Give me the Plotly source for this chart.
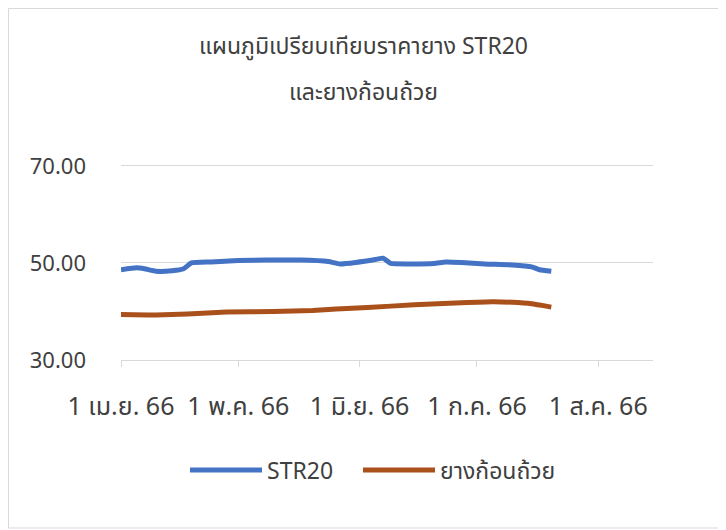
import plotly.graph_objects as go

# ---- data ----
str20_dates = ["2023-04-01", "2023-04-05", "2023-04-07", "2023-04-10", "2023-04-14",
               "2023-04-17", "2023-04-19", "2023-04-24", "2023-05-01", "2023-05-08",
               "2023-05-17", "2023-05-24", "2023-05-27", "2023-05-31", "2023-06-05",
               "2023-06-07", "2023-06-09", "2023-06-14", "2023-06-20", "2023-06-23",
               "2023-06-27", "2023-07-03", "2023-07-10", "2023-07-15", "2023-07-17",
               "2023-07-20"]
str20_values = [48.6, 49.0, 48.8, 48.3, 48.4,
                48.8, 50.0, 50.2, 50.5, 50.6,
                50.6, 50.3, 49.8, 50.1, 50.7,
                51.0, 49.9, 49.8, 49.9, 50.2,
                50.1, 49.8, 49.6, 49.2, 48.6,
                48.3]

cup_dates = ["2023-04-01", "2023-04-10", "2023-04-18", "2023-04-28", "2023-05-10",
             "2023-05-20", "2023-05-26", "2023-06-03", "2023-06-15", "2023-06-27",
             "2023-07-05", "2023-07-10", "2023-07-15", "2023-07-18", "2023-07-20"]
cup_values = [39.4, 39.3, 39.5, 39.9, 40.0,
              40.2, 40.5, 40.8, 41.4, 41.8,
              42.0, 41.9, 41.6, 41.2, 40.9]

tick_dates = ["2023-04-01", "2023-05-01", "2023-06-01", "2023-07-01", "2023-08-01"]
tick_labels = ["1 เม.ย. 66", "1 พ.ค. 66", "1 มิ.ย. 66", "1 ก.ค. 66", "1 ส.ค. 66"]
y_ticks = [30, 50, 70]

series_names = ["STR20", "ยางก้อนถ้วย"]
colors = ["#4472C4", "#A9501B"]
title_lines = ["แผนภูมิเปรียบเทียบราคายาง STR20", "และยางก้อนถ้วย"]

# ---- layout geometry (page has an 8px body margin) ----
OFF = 8
W, H = 726 - OFF, 530 - OFF
L, R, T, B = 113, 73, 156, 170
pw, ph = W - L - R, H - T - B


def px_x(xp):
    return (xp - OFF - L) / pw


def px_y(yp):
    return (H - B - (yp - OFF)) / ph


FONT = "Tahoma, 'Noto Sans Thai', Loma, Garuda, 'Noto Sans', sans-serif"
TXT = "#404040"

fig = go.Figure()
fig.add_trace(go.Scatter(x=str20_dates, y=str20_values, mode="lines", name=series_names[0],
                         legend="legend",
                         line=dict(color=colors[0], width=5, shape="spline", smoothing=0.4)))
fig.add_trace(go.Scatter(x=cup_dates, y=cup_values, mode="lines", name=series_names[1],
                         legend="legend2",
                         line=dict(color=colors[1], width=5, shape="spline", smoothing=0.4)))

legend_common = dict(orientation="h", xanchor="left", yanchor="middle",
                     font=dict(size=23, color=TXT), itemwidth=72,
                     bgcolor="rgba(0,0,0,0)")

fig.update_layout(
    width=W, height=H,
    margin=dict(l=L, r=R, t=T, b=B),
    paper_bgcolor="white", plot_bgcolor="white",
    font=dict(family=FONT, size=22, color=TXT),
    showlegend=True,
    legend=dict(x=px_x(185), y=px_y(470), **legend_common),
    legend2=dict(x=px_x(358), y=px_y(470), **legend_common),
    xaxis=dict(type="date", range=["2023-04-01", "2023-08-15"],
               tickvals=tick_dates, ticktext=tick_labels,
               showgrid=False, zeroline=False,
               showline=True, linecolor="#D9D9D9", linewidth=1,
               ticks="outside", ticklen=6, tickcolor="#D9D9D9",
               tickfont=dict(size=25, color=TXT), ticklabelstandoff=18),
    yaxis=dict(range=[30, 70.4], tickvals=y_ticks, tickformat=".2f",
               showgrid=True, gridcolor="#D9D9D9", gridwidth=1,
               zeroline=False, showline=False, ticks="",
               tickfont=dict(size=22, color=TXT), ticklabelstandoff=34),
)

for txt, ypx in zip(title_lines, [47, 93]):
    fig.add_annotation(text=txt, xref="paper", yref="paper", x=px_x(363), y=px_y(ypx),
                       xanchor="center", yanchor="middle", showarrow=False,
                       font=dict(size=23, color=TXT, family=FONT))

# chart border
fig.add_shape(type="rect", xref="paper", yref="paper",
              x0=px_x(OFF + 0.5), x1=px_x(724), y0=px_y(OFF + 0.5), y1=px_y(528),
              line=dict(color="#D9D9D9", width=1), layer="below")

fig.write_html("out.html")
